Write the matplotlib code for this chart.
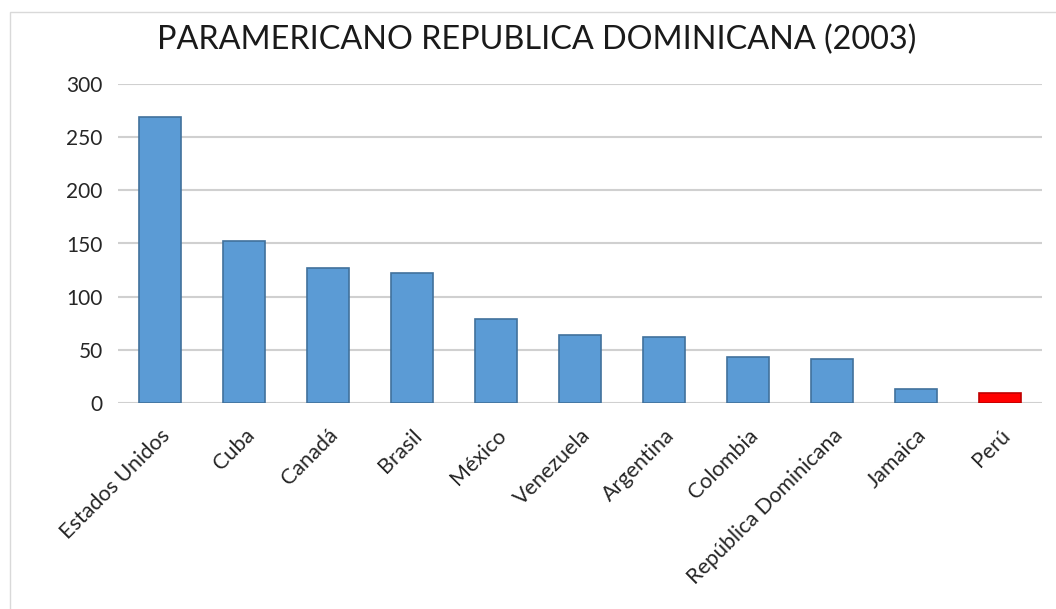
import matplotlib

matplotlib.use("Agg")
import matplotlib.pyplot as plt
from matplotlib.patches import Rectangle

# data
countries = [
    "Estados Unidos", "Cuba", "Canadá", "Brasil", "México", "Venezuela",
    "Argentina", "Colombia", "República Dominicana", "Jamaica", "Perú",
]
medals = [269, 152, 127, 122, 79, 64, 62, 43, 41, 13, 9]
highlight = "Perú"
title = "PARAMERICANO REPUBLICA DOMINICANA (2003)"
yticks = [0, 50, 100, 150, 200, 250, 300]

plt.rcParams["font.family"] = ["Lato", "DejaVu Sans"]

W, H, DPI = 1056, 609, 100
fig = plt.figure(figsize=(W / DPI, H / DPI), dpi=DPI)
ax = fig.add_axes([118 / W, (H - 403) / H, (1042 - 118) / W, (403 - 84) / H])

face = ["#FF0000" if c == highlight else "#5B9BD5" for c in countries]
edge = ["#C00000" if c == highlight else "#41719C" for c in countries]
x = list(range(len(countries)))
ax.bar(x, medals, width=0.5, color=face, edgecolor=edge, linewidth=1.2, zorder=3)

ax.set_xlim(-0.5, len(countries) - 0.5)
ax.set_ylim(0, 300)
ax.set_yticks(yticks)
ax.set_yticklabels([str(v) for v in yticks], fontsize=15, color="#262626")
ax.set_xticks(x)
ax.set_xticklabels(countries, rotation=45, ha="right", rotation_mode="anchor",
                   fontsize=15.5, color="#262626")
ax.tick_params(axis="both", length=0)
ax.tick_params(axis="y", pad=11)
ax.tick_params(axis="x", pad=16)
ax.grid(axis="y", color="#D0D0D0", linewidth=1.5, zorder=0)
for s in ax.spines.values():
    s.set_visible(False)

fig.text(537 / W, 1 - 40 / H, title, ha="center", va="center", fontsize=23.3,
         color="#1a1a1a")

# light chart-area border
fig.patches.append(Rectangle((10 / W, -0.1), 1.2, 1 - 12 / H + 0.1,
                             transform=fig.transFigure, fill=False,
                             edgecolor="#D9D9D9", linewidth=1))

fig.savefig("out.png", dpi=DPI)
